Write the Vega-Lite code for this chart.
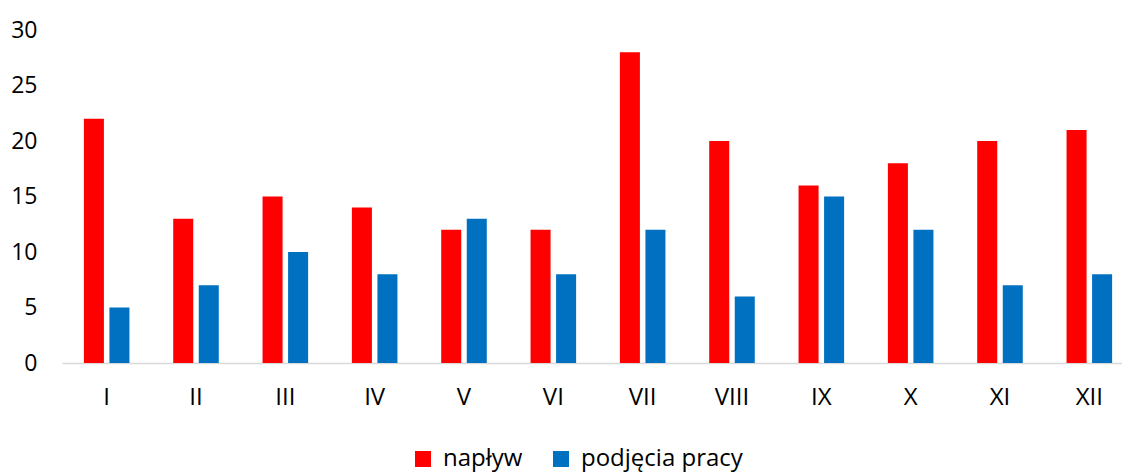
{
  "$schema": "https://vega.github.io/schema/vega-lite/v6.json",
  "width": 1060,
  "height": 333,
  "autosize": {"type": "none"},
  "padding": {"left": 62, "top": 30, "right": 0, "bottom": 111},
  "background": "white",
  "data": {"values": [
    {"m": "I", "s": "napływ", "v": 22}, {"m": "I", "s": "podjęcia pracy", "v": 5},
    {"m": "II", "s": "napływ", "v": 13}, {"m": "II", "s": "podjęcia pracy", "v": 7},
    {"m": "III", "s": "napływ", "v": 15}, {"m": "III", "s": "podjęcia pracy", "v": 10},
    {"m": "IV", "s": "napływ", "v": 14}, {"m": "IV", "s": "podjęcia pracy", "v": 8},
    {"m": "V", "s": "napływ", "v": 12}, {"m": "V", "s": "podjęcia pracy", "v": 13},
    {"m": "VI", "s": "napływ", "v": 12}, {"m": "VI", "s": "podjęcia pracy", "v": 8},
    {"m": "VII", "s": "napływ", "v": 28}, {"m": "VII", "s": "podjęcia pracy", "v": 12},
    {"m": "VIII", "s": "napływ", "v": 20}, {"m": "VIII", "s": "podjęcia pracy", "v": 6},
    {"m": "IX", "s": "napływ", "v": 16}, {"m": "IX", "s": "podjęcia pracy", "v": 15},
    {"m": "X", "s": "napływ", "v": 18}, {"m": "X", "s": "podjęcia pracy", "v": 12},
    {"m": "XI", "s": "napływ", "v": 20}, {"m": "XI", "s": "podjęcia pracy", "v": 7},
    {"m": "XII", "s": "napływ", "v": 21}, {"m": "XII", "s": "podjęcia pracy", "v": 8}
  ]},
  "mark": {"type": "bar"},
  "encoding": {
    "x": {
      "field": "m", "type": "nominal", "sort": null, "title": null,
      "scale": {"range": [0, 1072], "paddingInner": 0.49, "paddingOuter": 0.245},
      "axis": {"labelAngle": 0, "ticks": false, "domainColor": "#D9D9D9", "domainWidth": 1.5, "labelPadding": 22, "labelFontSize": 24, "labelFont": "Open Sans", "labelColor": "#000000"}
    },
    "xOffset": {"field": "s", "type": "nominal", "scale": {"paddingInner": 0.216, "paddingOuter": 0}},
    "y": {
      "field": "v", "type": "quantitative", "title": null,
      "scale": {"domain": [0, 30], "nice": false},
      "axis": {"values": [0, 5, 10, 15, 20, 25, 30], "domain": false, "ticks": false, "grid": false, "labelPadding": 25, "labelFontSize": 23, "labelFont": "Open Sans", "labelColor": "#000000"}
    },
    "color": {
      "field": "s", "type": "nominal", "title": null,
      "scale": {"domain": ["napływ", "podjęcia pracy"], "range": ["#FF0000", "#0070C0"]},
      "legend": {
        "orient": "none", "direction": "horizontal", "legendX": 349, "legendY": 417,
        "symbolType": "square", "symbolSize": 256, "symbolStrokeWidth": 0,
        "labelFontSize": 24, "labelFont": "Open Sans", "labelColor": "#000000", "labelLimit": 400,
        "columnPadding": 26, "labelOffset": 8
      }
    }
  },
  "config": {"view": {"stroke": null}}
}
